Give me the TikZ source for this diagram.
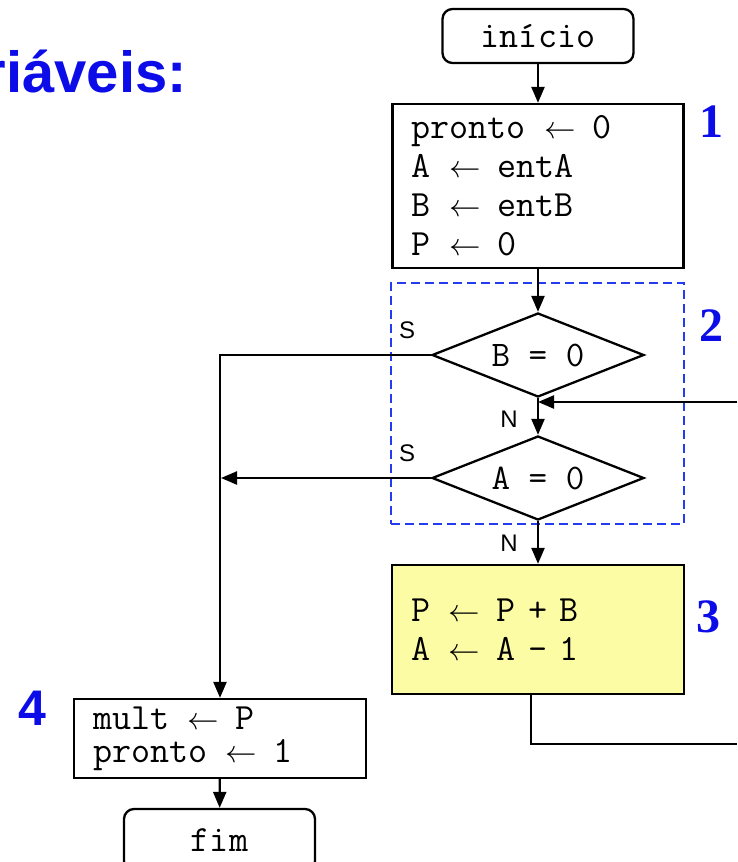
\documentclass[tikz,border=0pt]{standalone}
\usepackage{fix-cm}
\usepackage{fontspec}
\setmainfont{Liberation Serif}
\setsansfont{Liberation Sans}
\usetikzlibrary{shapes.geometric,arrows.meta,calc}
\definecolor{numblue}{RGB}{12,12,232}
\definecolor{grpblue}{RGB}{35,60,240}
\definecolor{procyellow}{RGB}{252,252,164}
\newcommand{\myarrow}{\hspace{0.5em}{\fontsize{31.5}{31.5}\selectfont\ensuremath{\leftarrow}}\hspace{0.45em}}
\begin{document}
\begin{tikzpicture}[x=1pt,y=-1pt,line width=2.3pt,
  arr/.style={-{Triangle[length=16pt,width=13pt]}},
  procbox/.style={draw,rectangle,inner ysep=0pt,inner xsep=19pt,align=left,
    font=\fontsize{37}{39}\selectfont\ttfamily},
  term/.style={draw,rectangle,rounded corners=10pt,inner sep=0pt,
    font=\fontsize{37}{39}\selectfont\ttfamily},
  decision/.style={draw,diamond,aspect=2.5,inner sep=0pt,
    minimum width=212pt,minimum height=84pt,
    font=\fontsize{36}{36}\selectfont\ttfamily},
  grpbox/.style={draw=grpblue,dash pattern=on 9pt off 5pt,rectangle,inner sep=0pt},
  yn/.style={font=\fontsize{24}{24}\selectfont\sffamily,inner sep=0pt},
  num/.style={font=\fontsize{48}{48}\selectfont\bfseries,text=numblue,inner sep=0pt,anchor=base},
]
\useasboundingbox (0,0) rectangle (737,862);

% title fragment
\node[font=\fontsize{58}{58}\selectfont\sffamily\bfseries,text=numblue,inner sep=0pt,anchor=base east] (title) at (188,92) {riáveis:};

% group box
\node[grpbox,minimum width=293pt,minimum height=241pt] (grp) at (537.5,403.5) {};

% nodes
\node[term,minimum width=191pt,minimum height=54pt] (ini) at (538,36) {início};
\node[procbox,minimum width=291pt,minimum height=164pt,text width=253pt] (b1) at (538,186)
  {pronto\myarrow 0\\A\myarrow entA\\B\myarrow entB\\P\myarrow 0};
\node[decision] (dB) at (538,355) {B = 0};
\node[decision] (dA) at (538,478) {A = 0};
\node[procbox,fill=procyellow,minimum width=292pt,minimum height=129pt,text width=254pt] (b3) at (538,629.5)
  {P\myarrow P + B\\A\myarrow A - 1};
\node[procbox,minimum width=292pt,minimum height=79pt,text width=254pt,
  font=\fontsize{37}{33}\selectfont\ttfamily] (b4) at (220,738.5)
  {mult\myarrow P\\pronto\myarrow 1};
\node[term,minimum width=191pt,minimum height=62pt] (fim) at (219.5,840) {fim};

% labels
\node[yn] (sB) at (407,330) {S};
\node[yn] (sA) at (407,453) {S};
\node[yn] (nB) at (509,419) {N};
\node[yn] (nA) at (509,543) {N};

\node[num] (n1) at (711,137) {1};
\node[num] (n2) at (711,341) {2};
\node[num] (n3) at (708,632) {3};
\node[font=\fontsize{50}{50}\selectfont\sffamily\bfseries,text=numblue,inner sep=0pt,anchor=base] (n4) at (32,725) {4};

% free ends of loop
\coordinate (loopIn) at (737,402);
\coordinate (loopOut) at (737,744);

% connectors
\draw[arr] (ini) -- (b1);
\draw[arr] (b1) -- (dB);
\draw[arr] (dB) -- (dA);
\draw[arr] (dA) -- (b3);
\draw ([xshift=-7pt]b3.south) |- (loopOut);
\draw[arr] (loopIn) -- (loopIn -| dB.south);
\draw[arr] (dB.west) -| (b4.north);
\draw[arr] (dA.west) -- ([xshift=1pt]dA.west -| b4.north);
\draw[arr] (b4) -- (fim);
\end{tikzpicture}
\end{document}
